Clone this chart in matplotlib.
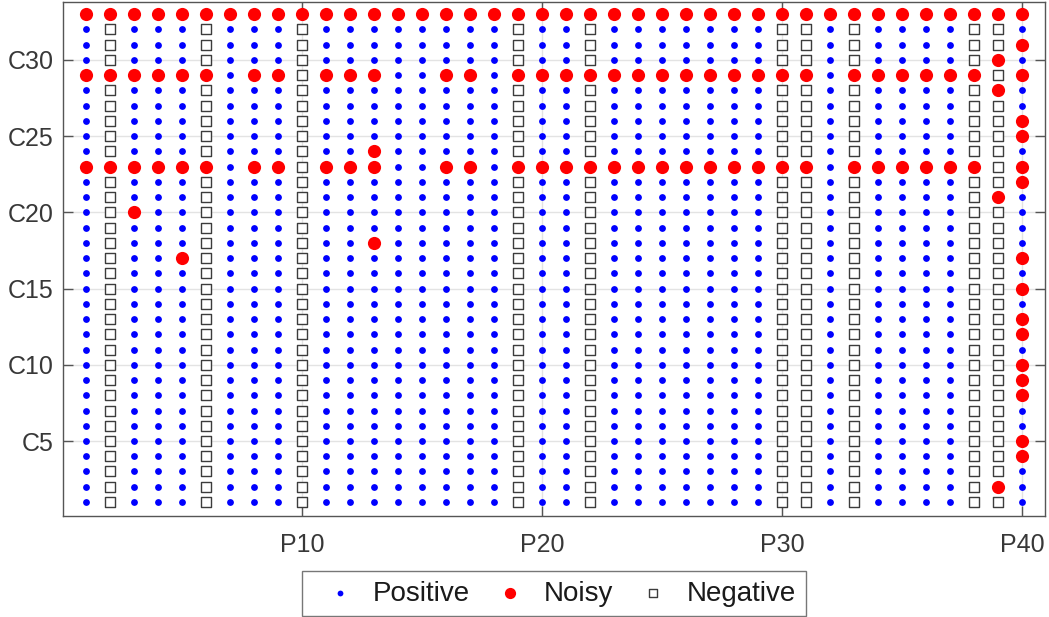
import matplotlib
matplotlib.use("Agg")
import matplotlib.pyplot as plt
import numpy as np

plt.rcParams['font.family'] = ['Liberation Sans', 'DejaVu Sans']

# grid size: columns P1..P40, rows C1..C33
n_cols = 40
n_rows = 33

# columns that are Negative everywhere (except noisy cells)
negative_cols = [2, 6, 10, 19, 22, 30, 31, 33, 38, 39]

# rows that are mostly Noisy
noisy_rows = [33, 29, 23]
skip_c33 = []
skip_c29 = [7, 10, 14, 15, 18, 32, 39]
skip_c23 = [7, 10, 14, 15, 18, 32, 39]

# isolated noisy cells
noisy_pt_cols = [40, 39, 39, 40, 40, 13, 40, 39, 3, 13, 5, 40, 40, 40, 40, 40, 40, 40, 40, 40, 39]
noisy_pt_rows = [31, 30, 28, 26, 25, 24, 22, 21, 20, 18, 17, 17, 15, 13, 12, 10, 9, 8, 5, 4, 2]

x_ticks = [10, 20, 30, 40]
x_labels = ['P10', 'P20', 'P30', 'P40']
y_ticks = [5, 10, 15, 20, 25, 30]
y_labels = ['C5', 'C10', 'C15', 'C20', 'C25', 'C30']

# label grid: 0 positive, 1 noisy, 2 negative
lab = np.zeros((n_rows, n_cols), dtype=int)
for c in negative_cols:
    lab[:, c - 1] = 2
for r, skip in zip(noisy_rows, [skip_c33, skip_c29, skip_c23]):
    for c in range(1, n_cols + 1):
        if c not in skip:
            lab[r - 1, c - 1] = 1
for c, r in zip(noisy_pt_cols, noisy_pt_rows):
    lab[r - 1, c - 1] = 1

cc, rr = np.meshgrid(np.arange(1, n_cols + 1), np.arange(1, n_rows + 1))

fig = plt.figure(figsize=(10.49, 6.17), dpi=100)
ax = fig.add_axes([63 / 1049, 101 / 617, 982 / 1049, 514 / 617])

m = lab == 0
ax.scatter(cc[m], rr[m], s=24, c='#0000ff', linewidths=0, label='Positive', zorder=3)
m = lab == 1
ax.scatter(cc[m], rr[m], s=90, c='#ff0000', linewidths=0, label='Noisy', zorder=3)
m = lab == 2
ax.scatter(cc[m], rr[m], s=42, marker='s', facecolors='white', edgecolors='#3c3c3c',
           linewidths=1.0, label='Negative', zorder=3)

ax.set_xlim(0.04, 40.96)
ax.set_ylim(0.08, 33.8)
ax.set_xticks(x_ticks)
ax.set_xticklabels(x_labels)
ax.set_yticks(y_ticks)
ax.set_yticklabels(y_labels)
ax.grid(True, color='#e3e3e3', linewidth=1.0, zorder=0)
ax.set_axisbelow(True)
ax.tick_params(direction='in', length=7, width=1, color='#555555', labelcolor='#383838',
               labelsize=18, top=True, right=True)
ax.tick_params(axis='x', pad=12)
ax.tick_params(axis='y', pad=7)
for s in ax.spines.values():
    s.set_color('#555555')
    s.set_linewidth(1.0)

leg = fig.legend(loc='upper center', bbox_to_anchor=(554 / 1049, 46 / 617), ncol=3,
                 fontsize=20, markerscale=0.85, handlelength=2.0, handletextpad=0.2,
                 columnspacing=0.45, borderpad=0.35, borderaxespad=0,
                 fancybox=False, frameon=True)
leg.get_frame().set_edgecolor('#555555')
leg.get_frame().set_linewidth(1.0)
for t in leg.get_texts():
    t.set_color('#1a1a1a')

fig.savefig('out.png', dpi=100)
